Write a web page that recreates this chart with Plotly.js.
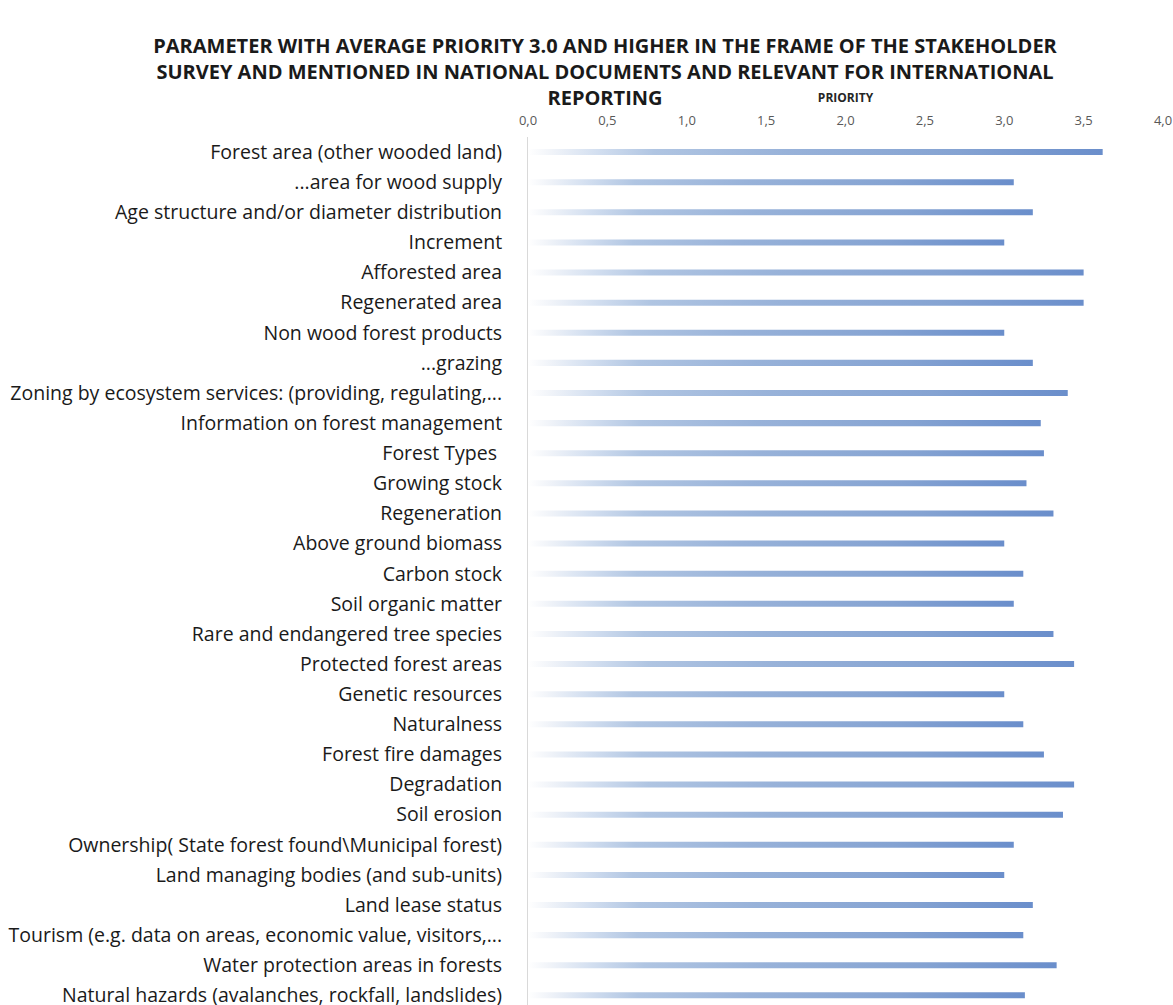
<!DOCTYPE html>
<html>
<head>
<meta charset="utf-8">
<script src="https://cdn.plot.ly/plotly-3.0.1.min.js"></script>
<style>
  html, body { margin: 0; padding: 0; background: #ffffff; overflow: hidden; }
  #chart { width: 1173px; height: 1005px; }
</style>
</head>
<body>
<div id="chart"></div>
<script>
// Parameters, top to bottom
const parameters = [
  "Forest area (other wooded land)",
  "...area for wood supply",
  "Age structure and/or diameter distribution",
  "Increment",
  "Afforested area",
  "Regenerated area",
  "Non wood forest products",
  "...grazing",
  "Zoning by ecosystem services: (providing, regulating,...",
  "Information on forest management",
  "Forest Types\u00a0",
  "Growing stock",
  "Regeneration",
  "Above ground biomass",
  "Carbon stock",
  "Soil organic matter",
  "Rare and endangered tree species",
  "Protected forest areas",
  "Genetic resources",
  "Naturalness",
  "Forest fire damages",
  "Degradation",
  "Soil erosion",
  "Ownership( State forest found\\Municipal forest)",
  "Land managing bodies (and sub-units)",
  "Land lease status",
  "Tourism (e.g. data on areas, economic value, visitors,...",
  "Water protection areas in forests",
  "Natural hazards (avalanches, rockfall, landslides)"
];

// Average priority per parameter
const priority = [
  3.62, 3.06, 3.18, 3.00, 3.50, 3.50, 3.00, 3.18, 3.40, 3.23,
  3.25, 3.14, 3.31, 3.00, 3.12, 3.06, 3.31, 3.44, 3.00, 3.12,
  3.25, 3.44, 3.37, 3.06, 3.00, 3.18, 3.12, 3.33, 3.13
];

const priorityTicks = [0, 0.5, 1, 1.5, 2, 2.5, 3, 3.5, 4];

const chartTitle = "PARAMETER WITH AVERAGE PRIORITY 3.0 AND HIGHER IN THE FRAME OF THE STAKEHOLDER<br>" +
                   "SURVEY AND MENTIONED IN NATIONAL DOCUMENTS AND RELEVANT FOR INTERNATIONAL<br>" +
                   "REPORTING";
const axisTitle = "PRIORITY";

const trace = {
  type: "bar",
  orientation: "h",
  x: priority,
  y: parameters,
  marker: { color: "#7396cc", line: { width: 0 } },
  hoverinfo: "skip"
};

const layout = {
  width: 1173,
  height: 1005,
  paper_bgcolor: "#ffffff",
  plot_bgcolor: "#ffffff",
  separators: ", ",
  margin: { l: 528, r: 10, t: 137, b: 0, pad: 0 },
  bargap: 0.8,
  showlegend: false,
  title: {
    text: chartTitle,
    font: { family: "Open Sans, sans-serif", size: 20, color: "#1a1a1a", weight: 700 },
    x: 605 / 1173,
    xanchor: "center",
    xref: "container",
    yref: "container",
    y: 1 - 53 / 1005,
    yanchor: "top"
  },
  xaxis: {
    side: "top",
    range: [0, 4],
    tickvals: priorityTicks,
    tickformat: ".1f",
    showgrid: false,
    zeroline: false,
    showline: false,
    ticks: "",
    ticklabelstandoff: 8,
    tickfont: { family: "Open Sans, sans-serif", size: 13, color: "#595959" },
    title: {
      text: axisTitle,
      font: { family: "Open Sans, sans-serif", size: 12, color: "#262626", weight: 700 },
      standoff: 6
    },
    fixedrange: true
  },
  yaxis: {
    type: "category",
    range: [28.32, -0.5],
    showgrid: false,
    zeroline: false,
    showline: true,
    linecolor: "#d9d9d9",
    linewidth: 1,
    ticks: "",
    ticklabelstandoff: 21,
    tickfont: { family: "Open Sans, sans-serif", size: 19.5, color: "#1a1a1a" },
    automargin: false,
    fixedrange: true
  }
};

Plotly.newPlot("chart", [trace], layout, { staticPlot: true, displayModeBar: false }).then(function (gd) {
  // Fade each bar from near-white at the axis to full blue at its end
  const svg = gd.querySelector(".main-svg");
  const ns = "http://www.w3.org/2000/svg";
  let defs = svg.querySelector("defs");
  if (!defs) { defs = document.createElementNS(ns, "defs"); svg.insertBefore(defs, svg.firstChild); }
  const grad = document.createElementNS(ns, "linearGradient");
  grad.setAttribute("id", "barFade");
  grad.setAttribute("x1", "0"); grad.setAttribute("y1", "0");
  grad.setAttribute("x2", "1"); grad.setAttribute("y2", "0");
  const stops = [
    [0.00, "#ffffff"],
    [0.04, "#f1f4f9"],
    [0.12, "#d3dff0"],
    [0.22, "#b0c5e2"],
    [0.45, "#98b2d9"],
    [0.75, "#85a3d2"],
    [1.00, "#6a8ecb"]
  ];
  stops.forEach(function (s) {
    const st = document.createElementNS(ns, "stop");
    st.setAttribute("offset", s[0]);
    st.setAttribute("stop-color", s[1]);
    grad.appendChild(st);
  });
  defs.appendChild(grad);
  gd.querySelectorAll(".trace.bars .point path").forEach(function (p) {
    p.style.fill = "url(#barFade)";
  });
});
</script>
</body>
</html>
